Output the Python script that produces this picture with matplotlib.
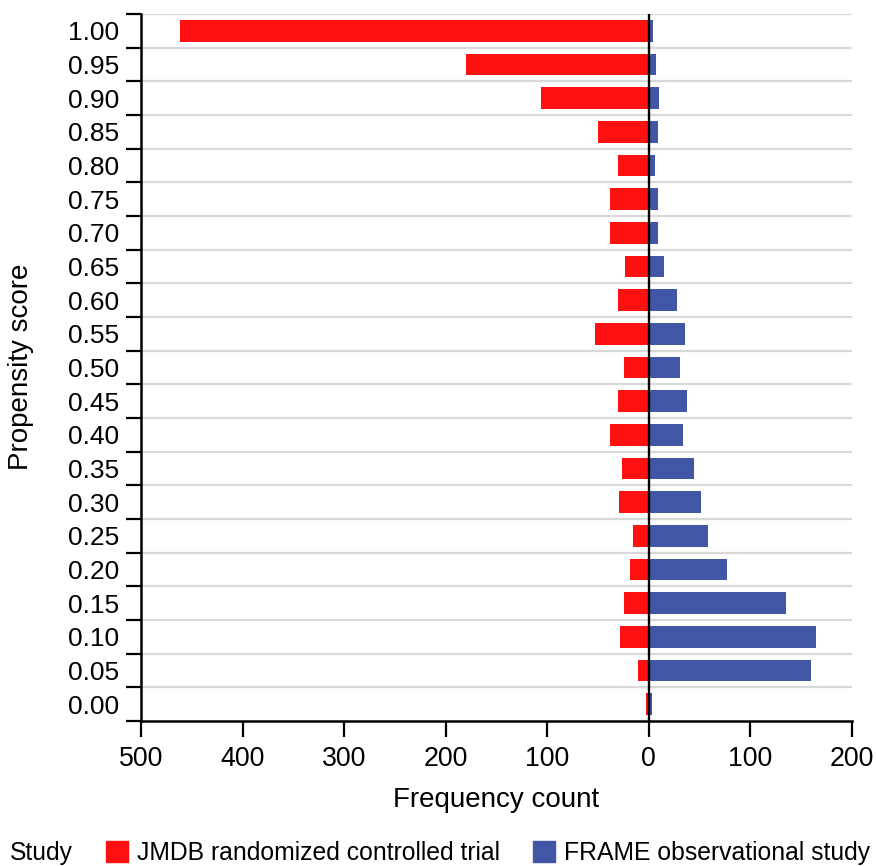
import matplotlib
matplotlib.use("Agg")
import matplotlib.pyplot as plt
from matplotlib.patches import Patch
import numpy as np

plt.rcParams['font.family'] = ['Liberation Sans', 'DejaVu Sans']

scores = ["0.00", "0.05", "0.10", "0.15", "0.20", "0.25", "0.30", "0.35", "0.40", "0.45",
          "0.50", "0.55", "0.60", "0.65", "0.70", "0.75", "0.80", "0.85", "0.90", "0.95", "1.00"]
jmdb = [3, 11, 28, 24, 19, 16, 29, 26, 38, 30, 24, 53, 30, 23, 38, 38, 30, 50, 106, 180, 462]
frame = [3, 160, 165, 135, 77, 58, 51, 44, 34, 38, 31, 36, 28, 15, 9, 9, 6, 9, 10, 7, 4]

x_ticks = [-500, -400, -300, -200, -100, 0, 100, 200]
x_ticklabels = ["500", "400", "300", "200", "100", "0", "100", "200"]

red = "#FF1111"
blue = "#4256A6"

fig = plt.figure(figsize=(8.76, 8.66), dpi=100)
ax = fig.add_axes([141/876, 1-721/866, (852-141)/876, (721-14)/866])

n = len(scores)
pos = np.arange(n)
ax.barh(pos, -np.array(jmdb), height=0.65, color=red, zorder=2)
ax.barh(pos, frame, height=0.65, color=blue, zorder=2)

for k in range(n):
    ax.axhline(k + 0.5, color="#D9D9D9", lw=1.6, zorder=1)
ax.axvline(0, color="black", lw=1.7, zorder=3)

ax.set_xlim(-500, 200)
ax.set_ylim(-0.5, n - 0.5)

ax.set_xticks(x_ticks)
ax.set_xticklabels(x_ticklabels, fontsize=19.3)
ax.set_yticks(np.arange(n + 1) - 0.5)
ax.set_yticklabels([])
ax.set_yticks(pos, minor=True)
ax.set_yticklabels(scores, minor=True, fontsize=19)
ax.tick_params(axis='y', which='major', length=11, width=1.6, direction='out')
ax.tick_params(axis='y', which='minor', length=0, pad=15.5)
ax.tick_params(axis='x', which='major', length=11.5, width=1.6, pad=6.5)

for s in ['top', 'right']:
    ax.spines[s].set_visible(False)
for s in ['left', 'bottom']:
    ax.spines[s].set_linewidth(1.8)

ax.set_xlabel("Frequency count", fontsize=20, labelpad=11)
fig.text(21.5/876, 1-367/866, "Propensity score", rotation=90, fontsize=20,
         ha='center', va='center')

fig.text(10/876, 1-853/866, "Study", fontsize=17.8, ha='left', va='center')
handles = [Patch(color=red, label="JMDB randomized controlled trial"),
           Patch(color=blue, label="FRAME observational study")]
fig.legend(handles=handles, loc='center left', bbox_to_anchor=(106/876, 1-853/866),
           ncol=2, frameon=False, fontsize=17.8, handlelength=0.88, handleheight=0.88,
           handletextpad=0.37, columnspacing=1.35, borderpad=0, borderaxespad=0)

fig.savefig("out.png", dpi=100)
